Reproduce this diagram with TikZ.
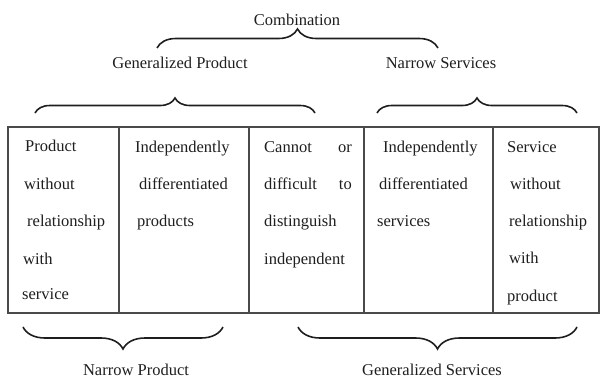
\documentclass[tikz,border=0pt]{standalone}
\usepackage{fontspec}
\setmainfont{Liberation Serif}
\usetikzlibrary{decorations.pathreplacing}
\definecolor{ink}{HTML}{1E1E1E}
\definecolor{rule}{HTML}{4A4A4A}
\tikzset{
  txt/.style={inner sep=0pt, anchor=base west, text=ink, font=\fontsize{16.5}{18}\selectfont},
  txtr/.style={txt, anchor=base east},
  title/.style={inner sep=0pt, anchor=base, text=ink, font=\fontsize{16.5}{18}\selectfont},
  grid/.style={draw=rule, line width=1.3pt},
  bup/.style={draw=ink, line width=1.6pt, decorate, decoration={brace, amplitude=#1}},
  bdown/.style={draw=ink, line width=1.6pt, decorate, decoration={brace, mirror, amplitude=#1}}
}
\begin{document}
\begin{tikzpicture}[x=1pt,y=-1pt]
\useasboundingbox (0,0) rectangle (600,380);
% table
\coordinate (tl) at (8,127);
\coordinate (br) at (599,313);
\draw[grid] (tl) rectangle (br);
\foreach \x [count=\i] in {119,249,364,493}{
  \coordinate (d\i t) at (\x,127);
  \coordinate (d\i b) at (\x,313);
  \draw[grid] (d\i t) -- (d\i b);
}
% column 1
\node[txt] (c1a) at (25,151) {Product};
\node[txt] (c1b) at (24,189) {without};
\node[txt] (c1c) at (27,226) {relationship};
\node[txt] (c1d) at (23,264) {with};
\node[txt] (c1e) at (22,299) {service};
% column 2
\node[txt] (c2a) at (135,152) {Independently};
\node[txt] (c2b) at (139,189) {differentiated};
\node[txt] (c2c) at (137,226) {products};
% column 3
\node[txt] (c3a) at (264,152) {Cannot};
\node[txtr] (c3a2) at (352,152) {or};
\node[txt] (c3b) at (264,189) {difficult};
\node[txtr] (c3b2) at (352,189) {to};
\node[txt] (c3c) at (264,226) {distinguish};
\node[txt] (c3d) at (264,264) {independent};
% column 4
\node[txt] (c4a) at (383,152) {Independently};
\node[txt] (c4b) at (379,189) {differentiated};
\node[txt] (c4c) at (377,226) {services};
% column 5
\node[txt] (c5a) at (507,152) {Service};
\node[txt] (c5b) at (510,189) {without};
\node[txt] (c5c) at (509,226) {relationship};
\node[txt] (c5d) at (509,263) {with};
\node[txt] (c5e) at (507,301) {product};
% titles
\node[title] (comb) at (297,25) {Combination};
\node[title] (gp) at (180,68) {Generalized Product};
\node[title] (ns) at (441,68) {Narrow Services};
\node[title] (np) at (136,375) {Narrow Product};
\node[title] (gs) at (432,375) {Generalized Services};
% braces
\coordinate (b1l) at (157,48); \coordinate (b1r) at (438,48);
\coordinate (b2l) at (35,113); \coordinate (b2r) at (315,113);
\coordinate (b3l) at (377,113); \coordinate (b3r) at (577,113);
\coordinate (b4l) at (23,327); \coordinate (b4r) at (223,327);
\coordinate (b5l) at (298,327); \coordinate (b5r) at (577,327);
\draw[bup=19pt] (b1l) -- (b1r);
\draw[bup=15pt] (b2l) -- (b2r);
\draw[bup=15pt] (b3l) -- (b3r);
\draw[bdown=22pt] (b4l) -- (b4r);
\draw[bdown=22pt] (b5l) -- (b5r);
\end{tikzpicture}
\end{document}
